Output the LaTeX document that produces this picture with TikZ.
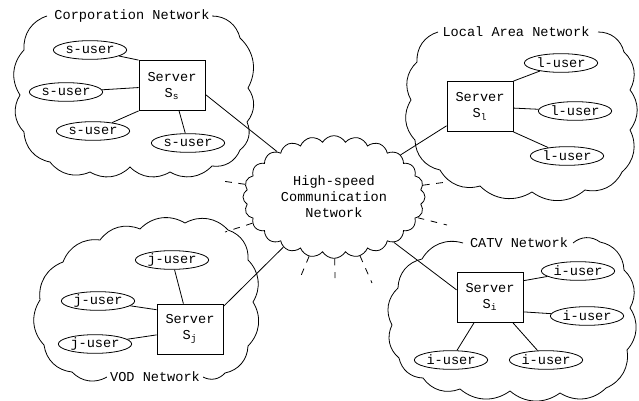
\documentclass[tikz,border=0pt]{standalone}
\usepackage{fontspec}
\setmainfont{Liberation Mono}
\usetikzlibrary{shapes.symbols,shapes.geometric,calc}
\tikzset{%
	netcloud/.style = {bend left=38},
	hscloud/.style  = {draw, cloud, cloud puffs=24, cloud puff arc=120, cloud ignores aspect, align=center},
	nettitle/.style = {fill=white, inner sep=2pt},
	server/.style   = {draw, rectangle, minimum width=49.5pt, minimum height=37.5pt, align=center, inner sep=1pt},
	user/.style     = {draw, ellipse, minimum width=55pt, minimum height=14pt, inner sep=0pt},
	stub/.style     = {dash pattern=on 5pt off 5pt},
}

\begin{document}
\begin{tikzpicture}[x=0.75pt, y=-0.75pt, line width=0.6pt, font=\fontsize{10.2}{12}\selectfont]
	\useasboundingbox (0,0) rectangle (639,400);
	% clouds
	\draw[netcloud] (212,16) to (240,38) to (248,88) to (247,122) to (240,150) to (212,166) to (170,172) to (130,167) to (90,172) to (50,162) to (24,132) to (20,95) to (24,50) to (47,16);
	\draw[netcloud] (598,32) to (624,52) to (630,90) to (630,130) to (622,172) to (585,190) to (532,192) to (480,186) to (440,170) to (415,140) to (411,100) to (417,62) to (438,32);
	\draw[netcloud] (107,377) to (72,372) to (44,345) to (40,300) to (63,262) to (100,240) to (140,229) to (185,223) to (228,230) to (248,260) to (253,302) to (248,346) to (225,373) to (203,377);
	\draw[netcloud] (573,243) to (600,242) to (624,270) to (630,308) to (627,350) to (606,388) to (560,393) to (510,391) to (460,389) to (423,378) to (399,358) to (392,325) to (398,288) to (422,259) to (463,243);
	\node[hscloud, minimum width=136.5pt, minimum height=92pt] (hsnet) at (334,197) {High-speed\\Communication\\Network};
	\node[nettitle] (corptitle) at (132,16) {Corporation Network};
	\node[nettitle] (lantitle) at (516,32) {Local Area Network};
	\node[nettitle] (vodtitle) at (155,377) {VOD Network};
	\node[nettitle] (catvtitle) at (519,243) {CATV Network};
	% corporation network
	\node[server] (srvS) at (172,85.5) {Server\\S\textsubscript{s}};
	\node[user] (su1) at (90,50) {s-user};
	\node[user] (su2) at (66,92) {s-user};
	\node[user] (su3) at (93,131) {s-user};
	\node[user] (su4) at (188,143) {s-user};
	\draw (su1) -- (srvS.north west);
	\draw (su2) -- (srvS);
	\draw (su3) -- (srvS.south west);
	\draw (su4) -- (srvS);
	% local area network
	\node[server] (srvL) at (480,106.5) {Server\\S\textsubscript{l}};
	\node[user] (lu1) at (561,63) {l-user};
	\node[user] (lu2) at (575,111) {l-user};
	\node[user] (lu3) at (567,156) {l-user};
	\draw (lu1) -- (srvL.north east);
	\draw (lu2) -- (srvL);
	\draw (lu3) -- (srvL.south east);
	% VOD network
	\node[server] (srvJ) at (190,329) {Server\\S\textsubscript{j}};
	\node[user] (ju1) at (172,260) {j-user};
	\node[user] (ju2) at (98,301) {j-user};
	\node[user] (ju3) at (95,344) {j-user};
	\draw (ju1) -- (srvJ);
	\draw (ju2) -- (srvJ.150);
	\draw (ju3) -- (srvJ.190);
	% CATV network
	\node[server] (srvI) at (490,297) {Server\\S\textsubscript{i}};
	\node[user] (iu1) at (578,271) {i-user};
	\node[user] (iu2) at (587,316) {i-user};
	\node[user] (iu3) at (451,360) {i-user};
	\node[user] (iu4) at (546,360) {i-user};
	\draw (iu1) -- (srvI.26);
	\draw (iu2) -- (srvI.-24);
	\draw (iu3) -- (srvI);
	\draw (iu4) -- (srvI);
	% servers to backbone
	\draw (srvS.-15) -- (hsnet);
	\draw (srvL.210) -- (hsnet);
	\draw (srvJ.34) -- (hsnet);
	\draw (srvI.168) -- (hsnet);
	% other networks
	\coordinate (d1) at (222,181);
	\coordinate (d2) at (225,232);
	\coordinate (d3) at (300,278);
	\coordinate (d4) at (335,278);
	\coordinate (d5) at (372,283);
	\coordinate (d6) at (447,182);
	\coordinate (d7) at (447,225);
	\foreach \d in {d1,d2,d3,d4,d5,d6,d7}
		\draw[stub] (hsnet) -- (\d);
\end{tikzpicture}
\end{document}
